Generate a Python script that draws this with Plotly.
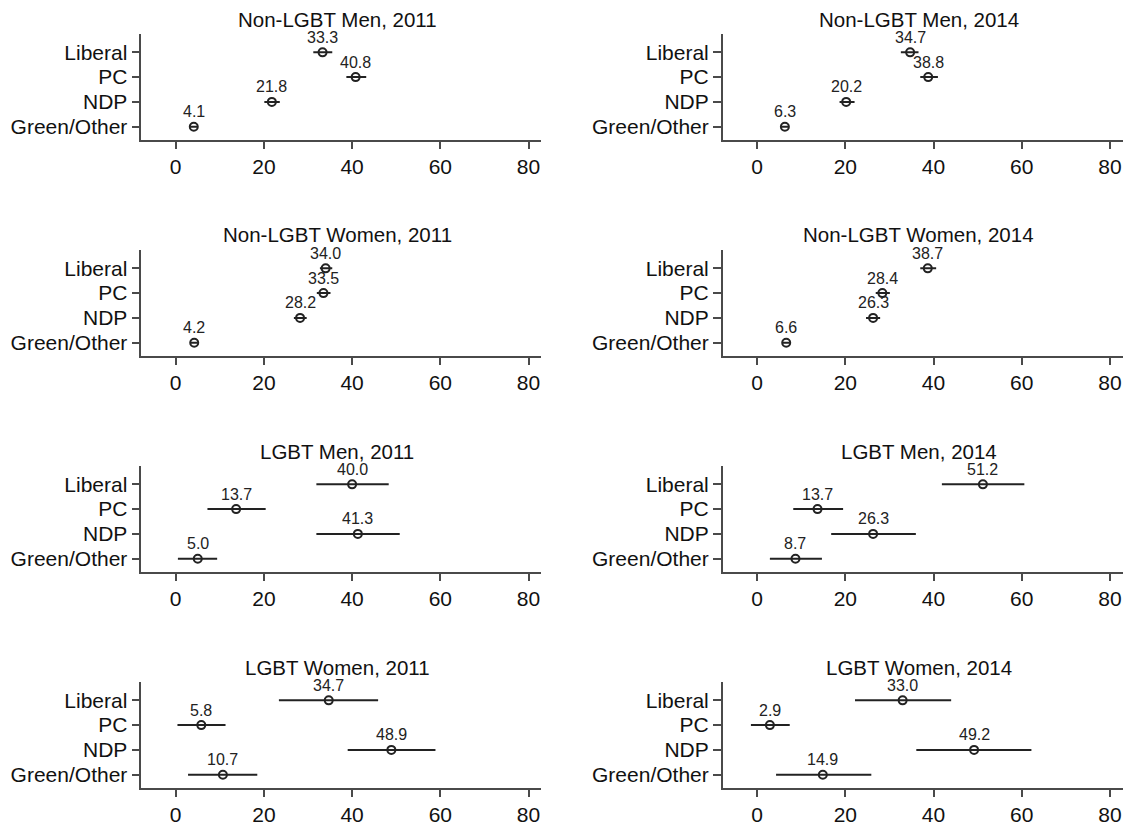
import plotly.graph_objects as go

categories = ["Liberal", "PC", "NDP", "Green/Other"]
x_ticks = [0, 20, 40, 60, 80]

titles = [
    "Non-LGBT Men, 2011", "Non-LGBT Men, 2014",
    "Non-LGBT Women, 2011", "Non-LGBT Women, 2014",
    "LGBT Men, 2011", "LGBT Men, 2014",
    "LGBT Women, 2011", "LGBT Women, 2014",
]

# point estimates (%)
est_nonlgbt_men_2011 = [33.3, 40.8, 21.8, 4.1]
est_nonlgbt_men_2014 = [34.7, 38.8, 20.2, 6.3]
est_nonlgbt_women_2011 = [34.0, 33.5, 28.2, 4.2]
est_nonlgbt_women_2014 = [38.7, 28.4, 26.3, 6.6]
est_lgbt_men_2011 = [40.0, 13.7, 41.3, 5.0]
est_lgbt_men_2014 = [51.2, 13.7, 26.3, 8.7]
est_lgbt_women_2011 = [34.7, 5.8, 48.9, 10.7]
est_lgbt_women_2014 = [33.0, 2.9, 49.2, 14.9]

# confidence interval lower bounds
lo_nonlgbt_men_2011 = [31.2, 38.7, 20.1, 3.3]
lo_nonlgbt_men_2014 = [32.6, 37.0, 18.7, 5.5]
lo_nonlgbt_women_2011 = [32.7, 32.0, 26.8, 3.4]
lo_nonlgbt_women_2014 = [37.0, 26.9, 24.7, 5.8]
lo_lgbt_men_2011 = [31.9, 7.2, 31.9, 0.5]
lo_lgbt_men_2014 = [41.9, 8.2, 16.8, 2.9]
lo_lgbt_women_2011 = [23.4, 0.4, 39.0, 2.8]
lo_lgbt_women_2014 = [22.2, -1.4, 36.1, 4.3]

# confidence interval upper bounds
hi_nonlgbt_men_2011 = [35.5, 43.2, 23.6, 4.9]
hi_nonlgbt_men_2014 = [36.6, 41.0, 22.1, 7.1]
hi_nonlgbt_women_2011 = [35.5, 35.1, 29.7, 5.0]
hi_nonlgbt_women_2014 = [40.6, 30.1, 27.9, 7.4]
hi_lgbt_men_2011 = [48.3, 20.4, 50.8, 9.4]
hi_lgbt_men_2014 = [60.6, 19.5, 36.0, 14.7]
hi_lgbt_women_2011 = [45.9, 11.3, 58.9, 18.5]
hi_lgbt_women_2014 = [44.0, 7.4, 62.2, 25.9]

ests = [est_nonlgbt_men_2011, est_nonlgbt_men_2014, est_nonlgbt_women_2011, est_nonlgbt_women_2014,
        est_lgbt_men_2011, est_lgbt_men_2014, est_lgbt_women_2011, est_lgbt_women_2014]
los = [lo_nonlgbt_men_2011, lo_nonlgbt_men_2014, lo_nonlgbt_women_2011, lo_nonlgbt_women_2014,
       lo_lgbt_men_2011, lo_lgbt_men_2014, lo_lgbt_women_2011, lo_lgbt_women_2014]
his = [hi_nonlgbt_men_2011, hi_nonlgbt_men_2014, hi_nonlgbt_women_2011, hi_nonlgbt_women_2014,
       hi_lgbt_men_2011, hi_lgbt_men_2014, hi_lgbt_women_2011, hi_lgbt_women_2014]

W, H = 1129, 825
FONT = "Liberation Sans, Arial, sans-serif"
AXIS_COLOR = "#4a4a4a"
INK = "#222222"

col_px = [(141.3, 541.3), (722.7, 1122.7)]
row_px = [(34, 140.3), (250, 356.3), (466, 572.3), (682, 788.3)]

fig = go.Figure()
layout = dict(
    width=W, height=H,
    margin=dict(l=0, r=0, t=0, b=0),
    paper_bgcolor="white", plot_bgcolor="white",
    showlegend=False,
    font=dict(family=FONT, size=21, color="#111111"),
)
annotations = []

for i in range(8):
    r, c = divmod(i, 2)
    n = i + 1
    xa = "x" if n == 1 else f"x{n}"
    ya = "y" if n == 1 else f"y{n}"
    xd = [col_px[c][0] / W, col_px[c][1] / W]
    yd = [1 - row_px[r][1] / H, 1 - row_px[r][0] / H]
    est, lo, hi = ests[i], los[i], his[i]
    fig.add_trace(go.Scatter(
        x=est, y=categories, xaxis=xa, yaxis=ya,
        mode="markers",
        marker=dict(symbol="circle-open", size=8, color=INK, line=dict(width=2, color=INK)),
        error_x=dict(type="data", symmetric=False,
                     array=[h - e for h, e in zip(hi, est)],
                     arrayminus=[e - l for e, l in zip(est, lo)],
                     width=0, thickness=2, color=INK),
        cliponaxis=False,
    ))
    layout["xaxis" if n == 1 else f"xaxis{n}"] = dict(
        domain=xd, anchor=ya, range=[-7.8, 82.9],
        tickmode="array", tickvals=x_ticks, ticktext=[str(v) for v in x_ticks],
        showline=True, linecolor=AXIS_COLOR, linewidth=1.5,
        ticks="outside", ticklen=7, tickwidth=1.5, tickcolor=AXIS_COLOR,
        showgrid=False, zeroline=False,
        tickfont=dict(family=FONT, size=21, color="#111111"),
        fixedrange=True,
    )
    layout["yaxis" if n == 1 else f"yaxis{n}"] = dict(
        domain=yd, anchor=xa, type="category",
        categoryorder="array", categoryarray=categories,
        tickmode="array", tickvals=categories, ticktext=categories,
        range=[3.55, -0.74],
        showline=True, linecolor=AXIS_COLOR, linewidth=1.5,
        ticks="outside", ticklen=8, tickwidth=1.5, tickcolor=AXIS_COLOR,
        showgrid=False, zeroline=False,
        tickfont=dict(family=FONT, size=21, color="#111111"),
        fixedrange=True,
    )
    for cat, e in zip(categories, est):
        annotations.append(dict(
            x=e, y=cat, xref=xa, yref=ya, text=f"{e:.1f}",
            showarrow=False, yshift=15, xanchor="center", yanchor="middle",
            font=dict(family=FONT, size=16, color=INK),
        ))
    annotations.append(dict(
        x=(xd[0] + xd[1]) / 2 - 4 / W, y=yd[1], xref="paper", yref="paper",
        text=titles[i], showarrow=False, xanchor="center", yanchor="middle",
        yshift=15, font=dict(family=FONT, size=20.5, color="#111111"),
    ))

layout["annotations"] = annotations
fig.update_layout(**layout)
fig.write_html("out.html")
